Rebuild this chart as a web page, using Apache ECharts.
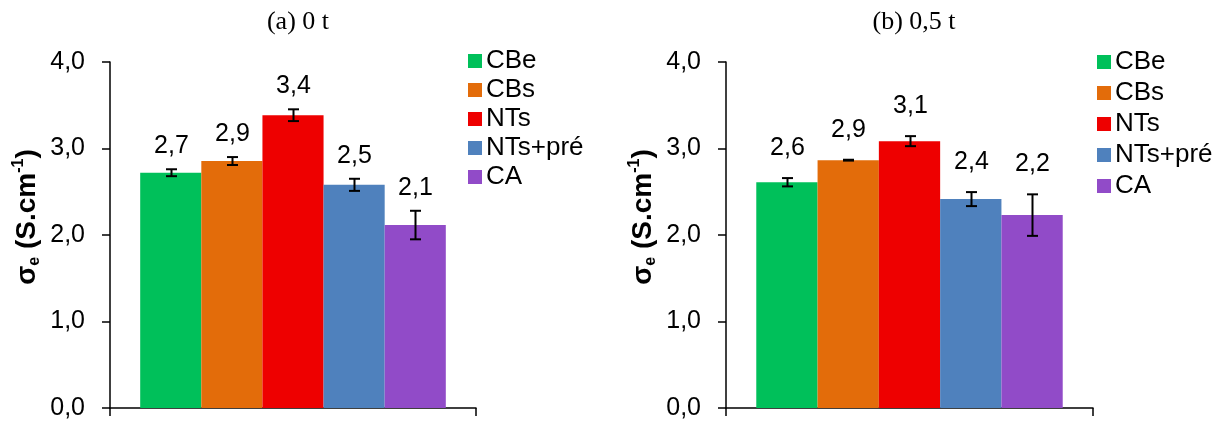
<!DOCTYPE html>
<html><head><meta charset="utf-8">
<script src="https://cdn.jsdelivr.net/npm/echarts@6/dist/echarts.min.js"></script>
<style>html,body{margin:0;padding:0;background:#fff}#c{width:1221px;height:424px}</style>
</head><body><div id="c"></div>
<script>
// ---- data ----
var materials = ['CBe', 'CBs', 'NTs', 'NTs+pré', 'CA'];
var colors = ['#00C05A', '#E36C0A', '#EE0000', '#4F81BD', '#914BC8'];
var titles = ['(a) 0 t', '(b) 0,5 t'];
var meansA = [2.72, 2.855, 3.385, 2.58, 2.115];
var errA = [0.04, 0.046, 0.068, 0.07, 0.165];
var labelsA = ['2,7', '2,9', '3,4', '2,5', '2,1'];
var meansB = [2.61, 2.865, 3.085, 2.415, 2.23];
var errB = [0.048, 0.005, 0.058, 0.081, 0.24];
var labelsB = ['2,6', '2,9', '3,1', '2,4', '2,2'];
var yTicks = [0, 1, 2, 3, 4];

var FONT = 'Liberation Sans, Arial, sans-serif';
var FS = 25;
var BARW = 0.167; // fraction of band per bar

function errSeries(idx, means, errs, labels, labelOffset) {
  var data = means.map(function (m, i) { return [i, m, m - errs[i], m + errs[i], labels[i]]; });
  return {
    type: 'custom', xAxisIndex: idx, yAxisIndex: idx, z: 10,
    data: data,
    renderItem: function (params, api) {
      var i = api.value(0);
      var band = api.size([1, 0])[0];
      var c = api.coord([0, api.value(1)]);
      var x = Math.round(c[0] + (i - 2) * band * BARW) + 0.5;
      var lo = api.coord([0, api.value(2)])[1];
      var hi = api.coord([0, api.value(3)])[1];
      var cap = 5.5;
      var st = { stroke: '#000', lineWidth: 2 };
      return {
        type: 'group', children: [
          { type: 'line', shape: { x1: x, y1: lo, x2: x, y2: hi }, style: st },
          { type: 'line', shape: { x1: x - cap, y1: lo, x2: x + cap, y2: lo }, style: st },
          { type: 'line', shape: { x1: x - cap, y1: hi, x2: x + cap, y2: hi }, style: st },
          { type: 'text', x: x, y: hi - labelOffset, style: { text: labels[i], fill: '#000', font: FS + 'px ' + FONT, align: 'center', verticalAlign: 'middle' } }
        ]
      };
    }
  };
}

var grids = [
  { left: 110, top: 62, width: 366, height: 346 },
  { left: 726, top: 62, width: 367, height: 346 }
];

var nameRich = {
  b: { fontSize: 28, fontWeight: 'bold', fill: '#000', fontFamily: FONT, lineHeight: 32, verticalAlign: 'middle' },
  s: { fontSize: 16, fontWeight: 'bold', fill: '#000', fontFamily: FONT, lineHeight: 32, verticalAlign: 'bottom', padding: [15, 0, 0, 0] },
  p: { fontSize: 16, fontWeight: 'bold', fill: '#000', fontFamily: FONT, lineHeight: 32, verticalAlign: 'top', padding: [0, 0, 13, 0] }
};

var option = {
  animation: false,
  textStyle: { fontFamily: FONT },
  title: titles.map(function (t, k) {
    return { text: t, left: k === 0 ? 293 : 909, top: 4, textAlign: 'center',
      textStyle: { fontFamily: 'Liberation Serif, Times New Roman, serif', fontWeight: 'normal', fontSize: 26, color: '#000' } };
  }),
  graphic: [27, 643].map(function (cx) {
    return { type: 'text', x: cx, y: 217, rotation: Math.PI / 2,
      style: { text: '{b|σ}{s|e}{b| (S.cm}{p|-1}{b|)}', rich: nameRich, align: 'center', verticalAlign: 'middle' } };
  }),
  legend: [
    { orient: 'vertical', left: 463, top: 43, itemWidth: 14, itemHeight: 14, itemGap: 3, icon: 'rect', data: materials,
      textStyle: { fontSize: 26, color: '#000', lineHeight: 26, padding: [0, 0, 0, -1] } },
    { orient: 'vertical', left: 1092, top: 44, itemWidth: 14, itemHeight: 14, itemGap: 5, icon: 'rect', data: materials,
      textStyle: { fontSize: 26, color: '#000', lineHeight: 26, padding: [0, 0, 0, -1] } }
  ],
  grid: grids,
  xAxis: [0, 1].map(function (k) {
    return { type: 'category', gridIndex: k, data: [''], boundaryGap: true,
      axisLine: { lineStyle: { color: '#000', width: 1.5 } },
      axisTick: { show: true, length: 8, lineStyle: { color: '#000', width: 1.5 } },
      axisLabel: { show: false } };
  }),
  yAxis: [0, 1].map(function (k) {
    return { type: 'value', gridIndex: k, min: yTicks[0], max: yTicks[yTicks.length - 1], interval: 1,
      splitLine: { show: false },
      axisLine: { show: true, lineStyle: { color: '#000', width: 1.5 } },
      axisTick: { show: true, length: 8, lineStyle: { color: '#000', width: 1.5 } },
      axisLabel: { fontSize: FS, color: '#000', margin: 25, formatter: function (v) { return v.toFixed(1).replace('.', ','); } } };
  }),
  series: []
};

[[meansA], [meansB]].forEach(function (arr, k) {
  var means = arr[0];
  materials.forEach(function (m, i) {
    option.series.push({ type: 'bar', name: m, xAxisIndex: k, yAxisIndex: k, barWidth: (BARW * 100) + '%', barGap: '0%',
      itemStyle: { color: colors[i] }, data: [means[i]] });
  });
});
option.series.push(errSeries(0, meansA, errA, labelsA, 23));
option.series.push(errSeries(1, meansB, errB, labelsB, 30));

var chart = echarts.init(document.getElementById('c'));
chart.setOption(option);
</script></body></html>
